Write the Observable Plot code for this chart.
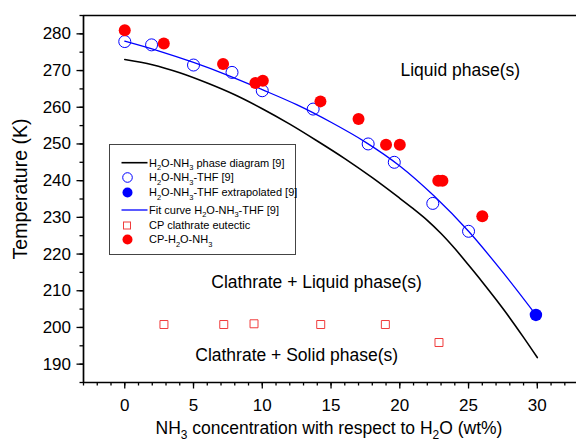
<!DOCTYPE html>
<html><head><meta charset="utf-8">
<script src="https://cdn.jsdelivr.net/npm/d3@7"></script>
<script src="https://cdn.jsdelivr.net/npm/@observablehq/plot@0.6"></script>
<style>body{margin:0;background:#fff} svg{display:block}</style>
</head><body><div id="chart"></div>
<script>
// H2O-NH3 phase diagram [9]
const phaseX = [0, 2, 4, 6, 8, 10, 12, 14, 16, 18, 20, 21, 22, 23, 24, 25, 26, 27, 28, 29, 30];
const phaseT = [273, 271.6, 269.4, 266.6, 263.4, 259.6, 255.4, 250.8, 246, 240.8, 235.2, 232.3, 229.2, 225.6, 221.5, 217, 212.4, 207.6, 202.6, 197.3, 191.8];
// Fit curve H2O-NH3-THF [9]
const fitX = [0, 2.5, 5, 7.5, 10, 12.5, 15, 17.5, 20, 22.5, 25, 27.5, 29.9];
const fitT = [278, 275.3, 272.2, 268.7, 264.8, 260.7, 255.9, 250.5, 244, 235.8, 226.2, 215, 203.4];
// H2O-NH3-THF [9]
const thfX = [0, 1.95, 5, 7.8, 10, 13.7, 17.7, 19.6, 22.4, 25];
const thfT = [277.9, 277.0, 271.5, 269.5, 264.5, 259.5, 250, 245, 233.8, 226.2];
// H2O-NH3-THF extrapolated [9]
const extrapX = [29.9];
const extrapT = [203.4];
// CP clathrate eutectic
const eutX = [2.85, 7.2, 9.4, 14.25, 18.95, 22.85];
const eutT = [200.8, 200.8, 201, 200.8, 200.8, 195.9];
// CP-H2O-NH3
const cpX = [0, 2.84, 7.15, 9.5, 10.04, 14.23, 17.0, 19.0, 20.0, 22.8, 23.1, 26.0];
const cpT = [281.0, 277.4, 271.8, 266.6, 267.2, 261.6, 256.8, 249.8, 249.8, 240, 240, 230.3];
// region labels
const regionText = ["Liquid phase(s)", "Clathrate + Liquid phase(s)", "Clathrate + Solid phase(s)"];
const regionX = [24.4, 13.95, 12.5];
const regionY = [270, 212.2, 192.3];
// ticks
const xMajor = [0, 5, 10, 15, 20, 25, 30];
const xMinor = d3.range(-3, 33, 1);
const yMajor = [190, 200, 210, 220, 230, 240, 250, 260, 270, 280];
const yMinor = d3.range(185, 286, 5);
// legend entries
const legendLabels = ["H_2O-NH_3 phase diagram [9]", "H_2O-NH_3-THF [9]", "H_2O-NH_3-THF extrapolated [9]",
  "Fit curve H_2O-NH_3-THF [9]", "CP clathrate eutectic", "CP-H_2O-NH_3"];

const FONT = "'Liberation Sans', Arial, sans-serif";
const BLUE = "#0000ff", RED = "#ff0000", SQ = "#f03c3c";

const chart = Plot.plot({
  width: 576, height: 446,
  marginLeft: 83, marginRight: 0, marginTop: 15, marginBottom: 64,
  x: {domain: [-3, 32.85], label: null},
  y: {domain: [185, 285], label: null},
  style: {fontFamily: FONT, fontSize: "17px", color: "black", background: "white", overflow: "visible"},
  marks: [
    Plot.axisX({ticks: xMinor, tickSize: 3.5, tickFormat: () => "", label: null, strokeWidth: 1.3}),
    Plot.axisX({ticks: xMajor, tickSize: 6.5, tickPadding: 10, label: null, strokeWidth: 1.3, fontSize: 17}),
    Plot.axisY({ticks: yMinor, tickSize: 3.5, tickFormat: () => "", label: null, strokeWidth: 1.3}),
    Plot.axisY({ticks: yMajor, tickSize: 6.5, tickPadding: 6, label: null, strokeWidth: 1.3, fontSize: 17}),
    Plot.ruleY([185, 285], {stroke: "black", strokeWidth: 1.7}),
    Plot.ruleX([-3], {stroke: "black", strokeWidth: 1.7}),
    Plot.line(phaseX, {x: phaseX, y: phaseT, curve: "catmull-rom", stroke: "black", strokeWidth: 1.6}),
    Plot.line(fitX, {x: fitX, y: fitT, curve: "catmull-rom", stroke: BLUE, strokeWidth: 1.3}),
    Plot.dot(thfX, {x: thfX, y: thfT, r: 6, stroke: BLUE, fill: "none", strokeWidth: 1}),
    Plot.dot(extrapX, {x: extrapX, y: extrapT, r: 6.2, fill: BLUE, stroke: "none"}),
    Plot.dot(eutX, {x: eutX, y: eutT, symbol: "square", r: 4.5, stroke: SQ, fill: "none", strokeWidth: 1}),
    Plot.dot(cpX, {x: cpX, y: cpT, r: 6, fill: RED, stroke: "none"}),
    Plot.text(regionText, {x: regionX, y: regionY, text: d => d, fontSize: 17.5, fill: "black"})
  ]
});

const svg = d3.select(chart);

function richText(sel, str, size) {
  const parts = str.split(/(_\d)/);
  let shifted = false;
  for (const p of parts) {
    if (!p) continue;
    if (p.startsWith("_")) {
      sel.append("tspan").attr("font-size", size * 0.68).attr("dy", size * 0.3).text(p.slice(1));
      shifted = true;
    } else {
      const t = sel.append("tspan").text(p);
      if (shifted) { t.attr("dy", -size * 0.3); shifted = false; }
    }
  }
}

// axis titles
const xt = svg.append("text").attr("x", 329).attr("y", 434).attr("text-anchor", "middle")
  .attr("font-family", FONT).attr("font-size", 17.5).attr("fill", "black");
richText(xt, "NH_3 concentration with respect to H_2O (wt%)", 17.5);
svg.append("text").attr("transform", "translate(27,189) rotate(-90)").attr("text-anchor", "middle")
  .attr("font-family", FONT).attr("font-size", 19.5).attr("fill", "black").text("Temperature (K)");

// legend
const lg = svg.append("g").attr("font-family", FONT).attr("text-anchor", "start");
lg.append("rect").attr("x", 109.5).attr("y", 144.5).attr("width", 186).attr("height", 110)
  .attr("fill", "white").attr("stroke", "#444").attr("stroke-width", 1);
const rowY = [162.7, 177.5, 192.5, 210, 225.5, 239.5];
const LS = 11;
legendLabels.forEach((lab, i) => {
  const y = rowY[i];
  if (i === 0 || i === 3) {
    lg.append("line").attr("x1", 121.5).attr("x2", 147.5).attr("y1", y).attr("y2", y)
      .attr("stroke", i === 0 ? "black" : BLUE).attr("stroke-width", i === 0 ? 1.6 : 1.3);
  } else if (i === 1) {
    lg.append("circle").attr("cx", 127.5).attr("cy", y).attr("r", 4.8).attr("fill", "none").attr("stroke", BLUE);
  } else if (i === 2) {
    lg.append("circle").attr("cx", 127.5).attr("cy", y).attr("r", 5).attr("fill", BLUE);
  } else if (i === 4) {
    lg.append("rect").attr("x", 123.5).attr("y", y - 3.5).attr("width", 7).attr("height", 7).attr("fill", "none").attr("stroke", SQ);
  } else {
    lg.append("circle").attr("cx", 127.5).attr("cy", y).attr("r", 5).attr("fill", RED);
  }
  const t = lg.append("text").attr("x", 149).attr("y", y + 3.8).attr("font-size", LS)
    .attr("text-anchor", "start").attr("fill", "black");
  richText(t, lab, LS);
});

document.getElementById("chart").appendChild(chart);
</script>
</body></html>
